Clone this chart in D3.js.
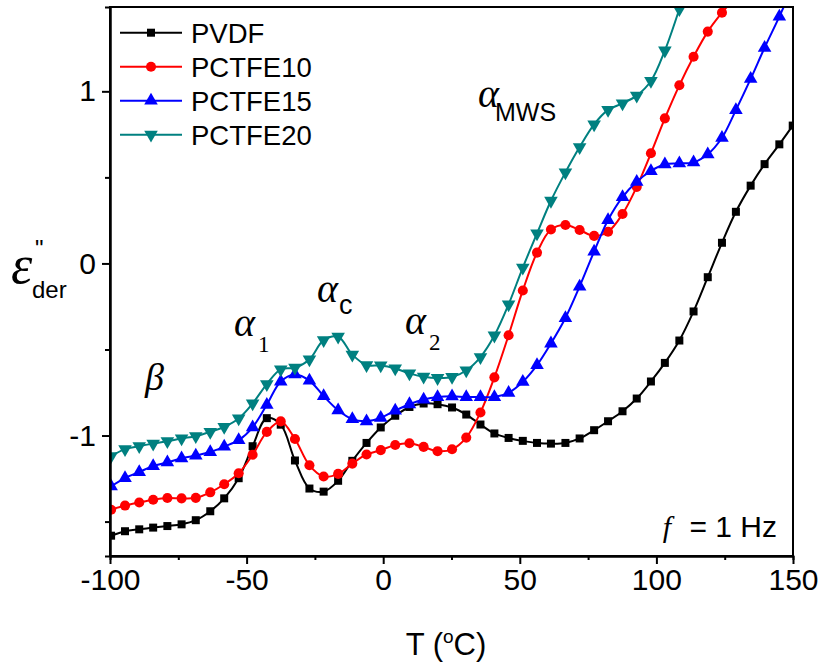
<!DOCTYPE html>
<html>
<head>
<meta charset="utf-8">
<script src="https://cdn.jsdelivr.net/npm/d3@7"></script>
<style>
  body { margin: 0; background: #fff; }
  svg text { font-family: "Liberation Sans", Arial, sans-serif; }
  .greek { font-family: "Liberation Serif", "Times New Roman", serif; font-style: italic; }
</style>
</head>
<body>
<svg id="chart_svg" width="822" height="668"></svg>
<script>
// temperatures (°C), common measurement grid
const temps = [-99.6, -94.5, -89.3, -84.2, -79.0, -73.8, -68.6, -63.3, -58.2, -52.9,
  -47.8, -42.6, -37.5, -32.3, -27.0, -21.8, -16.5, -11.3, -6.1, -0.9,
  4.4, 9.6, 14.8, 19.9, 25.2, 30.4, 35.6, 40.7, 45.9, 51.1,
  56.3, 61.4, 66.7, 71.9, 77.2, 82.3, 87.6, 92.8, 98.0, 103.1,
  108.4, 113.6, 118.8, 124.0, 129.1, 134.5, 139.6, 145.0, 149.9];

const pvdf = [-1.582, -1.556, -1.545, -1.535, -1.526, -1.516, -1.492, -1.440, -1.365, -1.248,
  -1.062, -0.899, -0.937, -1.145, -1.308, -1.326, -1.263, -1.147, -1.043, -0.953,
  -0.885, -0.834, -0.814, -0.818, -0.837, -0.878, -0.936, -0.988, -1.014, -1.031,
  -1.043, -1.047, -1.043, -1.017, -0.969, -0.917, -0.859, -0.785, -0.686, -0.578,
  -0.448, -0.279, -0.080, 0.120, 0.300, 0.452, 0.577, 0.692, 0.801];

const pctfe10 = [-1.431, -1.407, -1.389, -1.373, -1.363, -1.365, -1.362, -1.330, -1.283, -1.219,
  -1.112, -0.979, -0.918, -1.020, -1.173, -1.238, -1.223, -1.163, -1.110, -1.085,
  -1.055, -1.045, -1.066, -1.091, -1.080, -1.012, -0.866, -0.662, -0.417, -0.157,
  0.063, 0.197, 0.223, 0.194, 0.160, 0.184, 0.287, 0.445, 0.640, 0.843,
  1.035, 1.201, 1.347, 1.457, 1.55];

const pctfe15 = [-1.295, -1.247, -1.212, -1.178, -1.156, -1.132, -1.116, -1.096, -1.064, -1.027,
  -0.952, -0.821, -0.686, -0.645, -0.681, -0.771, -0.853, -0.905, -0.917, -0.897,
  -0.855, -0.818, -0.791, -0.776, -0.772, -0.776, -0.776, -0.776, -0.752, -0.688,
  -0.591, -0.465, -0.317, -0.134, 0.069, 0.252, 0.385, 0.474, 0.537, 0.576,
  0.581, 0.587, 0.634, 0.730, 0.891, 1.072, 1.253, 1.434, 1.61];

const pctfe20 = [-1.120, -1.079, -1.062, -1.047, -1.033, -1.017, -1.004, -0.979, -0.950, -0.901,
  -0.814, -0.701, -0.616, -0.606, -0.558, -0.446, -0.426, -0.530, -0.591, -0.593,
  -0.610, -0.639, -0.658, -0.666, -0.660, -0.622, -0.544, -0.419, -0.238, -0.024,
  0.174, 0.364, 0.529, 0.676, 0.808, 0.892, 0.930, 0.975, 1.060, 1.237,
  1.477, 1.72];

const seriesNames = ["PVDF", "PCTFE10", "PCTFE15", "PCTFE20"];
const seriesValues = [pvdf, pctfe10, pctfe15, pctfe20];
const xTicks = [-100, -50, 0, 50, 100, 150];
const xMinorTicks = [-75, -25, 25, 75, 125];
const yTicks = [-1, 0, 1];
const yMinorTicks = [-1.5, -0.5, 0.5];

const colors = ["#000000", "#ff0000", "#0000ff", "#008080"];
const symbols = [d3.symbolSquare, d3.symbolCircle, d3.symbolTriangle, d3.symbolTriangle];
const symSizes = [64, 80, 80, 80];

const margin = { top: 7, bottom: 112, left: 110, right: 29 };
const svg = d3.select("#chart_svg");
const width = +svg.attr("width");
const height = +svg.attr("height");

const xScale = d3.scaleLinear().domain([-100, 150]).range([margin.left, width - margin.right]);
const yScale = d3.scaleLinear().domain([-1.7, 1.49]).range([height - margin.bottom, margin.top]);

svg.append("clipPath").attr("id", "plot_clip")
  .append("rect")
  .attr("x", margin.left).attr("y", margin.top)
  .attr("width", width - margin.left - margin.right)
  .attr("height", height - margin.top - margin.bottom);

const line = d3.line()
  .x(d => xScale(d[0]))
  .y(d => yScale(d[1]))
  .curve(d3.curveCatmullRom.alpha(0.5));

let g_chart = svg.append("g").attr("id", "g_chart").attr("clip-path", "url(#plot_clip)");

seriesValues.forEach((vals, i) => {
  const pts = vals.map((v, j) => [temps[j], v]);
  g_chart.append("path")
    .datum(pts)
    .attr("fill", "none")
    .attr("stroke", colors[i])
    .attr("stroke-width", 2)
    .attr("d", line);

  g_chart.selectAll(".pt" + i)
    .data(pts.filter(p => p[1] <= 1.49))
    .enter()
    .append("path")
    .attr("class", "pt" + i)
    .attr("d", d3.symbol().type(symbols[i]).size(symSizes[i]))
    .attr("fill", colors[i])
    .attr("transform", p => "translate(" + xScale(p[0]) + "," + yScale(p[1]) + ")" + (i === 3 ? " rotate(180)" : ""));
});

// frame
svg.append("rect")
  .attr("x", margin.left).attr("y", margin.top)
  .attr("width", width - margin.left - margin.right)
  .attr("height", height - margin.top - margin.bottom)
  .attr("fill", "none").attr("stroke", "#000").attr("stroke-width", 2);

// axes
const x_axis = d3.axisBottom(xScale).tickValues(xTicks).tickSize(8).tickSizeOuter(0).tickPadding(5)
  .tickFormat(d => String(d));
const x_minor = d3.axisBottom(xScale).tickValues(xMinorTicks).tickSize(4).tickFormat("");
const g_x = svg.append("g").attr("transform", "translate(0," + (height - margin.bottom) + ")");
g_x.call(x_axis);
g_x.append("g").call(x_minor);

const y_axis = d3.axisLeft(yScale).tickValues(yTicks).tickSize(8).tickSizeOuter(0).tickPadding(6)
  .tickFormat(d => String(d));
const y_minor = d3.axisLeft(yScale).tickValues(yMinorTicks).tickSize(5).tickFormat("");
const g_y = svg.append("g").attr("transform", "translate(" + margin.left + ",0)");
g_y.call(y_axis);
g_y.append("g").call(y_minor);

svg.selectAll(".domain").attr("stroke-width", 2);
svg.selectAll(".tick line").attr("stroke-width", 2);
svg.selectAll(".tick text").attr("font-size", 30).attr("fill", "#000");

// axis titles
const xt = svg.append("text").attr("x", 446).attr("y", 655).attr("text-anchor", "middle").attr("font-size", 31);
xt.append("tspan").text("T (");
xt.append("tspan").attr("font-size", 19).attr("dy", -12).text("o");
xt.append("tspan").attr("dy", 12).text("C)");

svg.append("text").attr("class", "greek").attr("x", 11).attr("y", 283).attr("font-size", 54).text("ε");
svg.append("text").attr("x", 35).attr("y", 257).attr("font-size", 24).text("\"");
svg.append("text").attr("x", 32).attr("y", 298).attr("font-size", 24).text("der");

// legend
const legend = svg.append("g").attr("transform", "translate(120,32.7)");
seriesNames.forEach((name, i) => {
  const row = legend.append("g").attr("transform", "translate(0," + i * 34 + ")");
  row.append("line").attr("x1", 0).attr("x2", 62).attr("stroke", colors[i]).attr("stroke-width", 2);
  row.append("path")
    .attr("d", d3.symbol().type(symbols[i]).size(symSizes[i]))
    .attr("fill", colors[i])
    .attr("transform", "translate(31,0)" + (i === 3 ? " rotate(180)" : ""));
  row.append("text").attr("x", 71).attr("y", 10).attr("font-size", 27.5).text(name);
});

// peak annotations
function alphaLabel(x, y, sub, subFont, dx, dy, subSize) {
  const t = svg.append("text").attr("x", x).attr("y", y);
  t.append("tspan").attr("class", "greek").attr("font-size", 40).text("α");
  t.append("tspan").attr("font-family", subFont).attr("font-size", subSize)
    .attr("dx", dx).attr("dy", dy).text(sub);
}
svg.append("text").attr("class", "greek").attr("x", 145).attr("y", 390).attr("font-size", 38).text("β");
alphaLabel(234, 336, "1", "Liberation Serif, serif", 3, 16, 23);
alphaLabel(317, 302, "c", "Liberation Sans, sans-serif", 1, 12, 27);
alphaLabel(405, 334, "2", "Liberation Serif, serif", 3, 16, 23);
alphaLabel(478, 107, "MWS", "Liberation Sans, sans-serif", -4, 14, 25);

const ft = svg.append("text").attr("x", 777).attr("y", 537).attr("text-anchor", "end").attr("font-size", 30);
ft.append("tspan").attr("class", "greek").attr("font-size", 30).text("f");
ft.append("tspan").attr("dx", 10).text(" = 1 Hz");
</script>
</body>
</html>
